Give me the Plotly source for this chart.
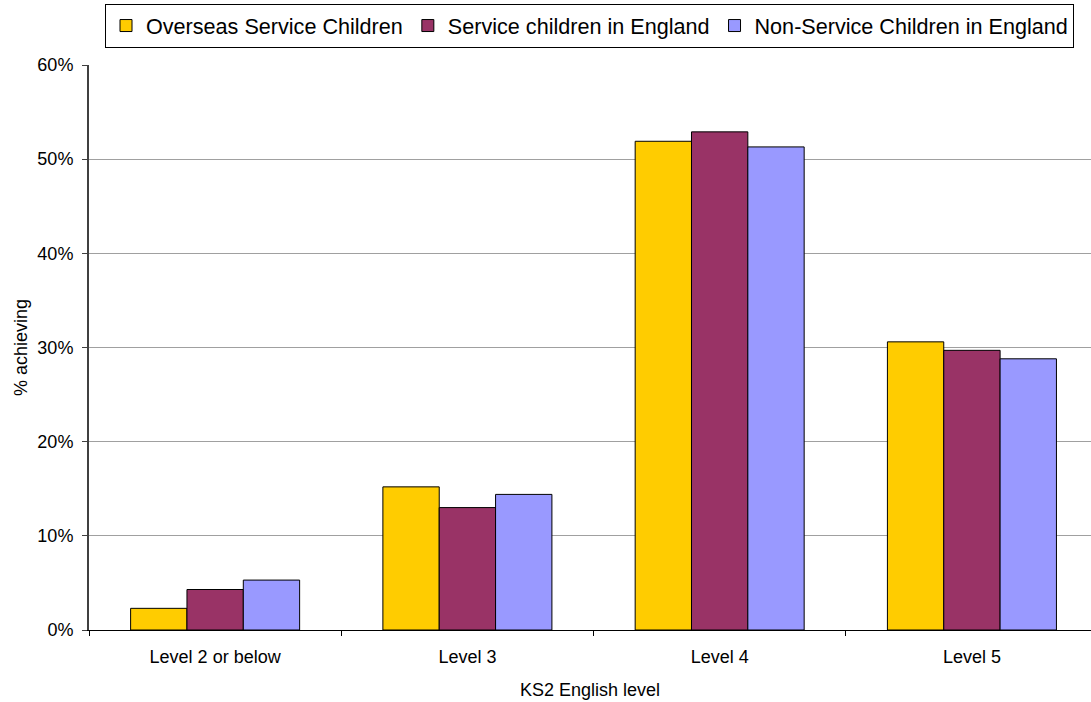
import plotly.graph_objects as go

categories = ["Level 2 or below", "Level 3", "Level 4", "Level 5"]
series_names = ["Overseas Service Children", "Service children in England", "Non-Service Children in England"]
overseas = [0.023, 0.152, 0.519, 0.306]
service_england = [0.043, 0.130, 0.529, 0.297]
non_service = [0.053, 0.144, 0.513, 0.288]
colors = ["#FFCC00", "#993366", "#9999FF"]
y_ticks = [0, 0.1, 0.2, 0.3, 0.4, 0.5, 0.6]

fig = go.Figure()
for name, vals, col in zip(series_names, [overseas, service_england, non_service], colors):
    fig.add_trace(go.Bar(name=name, x=categories, y=vals,
                         marker=dict(color=col, line=dict(color="#000000", width=1))))

fig.update_layout(
    width=1091, height=702,
    paper_bgcolor="white", plot_bgcolor="white",
    margin=dict(l=89, r=0, t=65, b=72, autoexpand=False),
    barmode="group", bargap=0.33, bargroupgap=0,
    font=dict(family="Arial, Liberation Sans, sans-serif", size=18, color="#000000"),
    legend=dict(orientation="h", xref="container", yref="container",
                x=105 / 1091, y=1 - 4 / 702, xanchor="left", yanchor="top",
                bordercolor="#000000", borderwidth=1, bgcolor="white",
                font=dict(size=21.6), itemwidth=30, traceorder="normal"),
    xaxis=dict(range=[-0.5, 3.472], showline=True, linecolor="#000000", linewidth=1,
               ticks="outside", tickson="boundaries", ticklen=5, tickcolor="#000000",
               ticklabelstandoff=10,
               title=dict(text="KS2 English level", standoff=17, font=dict(size=18)),
               tickfont=dict(size=18), automargin=False),
    yaxis=dict(range=[0, 0.6], tickvals=y_ticks, tickformat=".0%", showgrid=True,
               gridcolor="#A0A0A0", gridwidth=1, showline=True, linecolor="#404040",
               linewidth=2, ticks="outside", ticklen=5, tickcolor="#404040",
               ticklabelstandoff=5,
               title=dict(text="% achieving", standoff=5, font=dict(size=18)),
               tickfont=dict(size=18), zeroline=False, automargin=False),
)
fig.write_html("out.html", config={"displayModeBar": False},
               post_script="document.body.style.margin='0px';")
